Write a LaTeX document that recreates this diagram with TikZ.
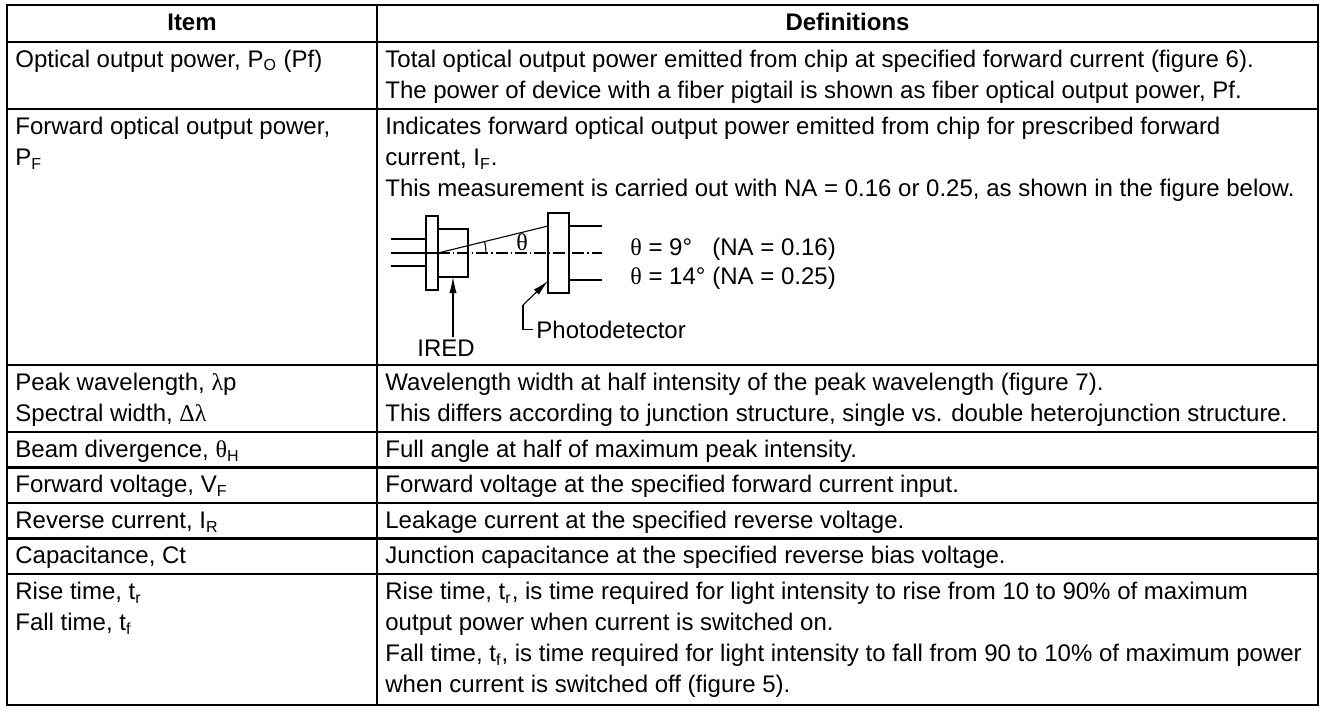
\documentclass[tikz,border=0pt]{standalone}
\usepackage{fontspec}
\setmainfont{Liberation Sans}
\newfontfamily\grk{Liberation Serif}
\usetikzlibrary{arrows.meta}
\newcommand{\txt}{\fontsize{12}{15.5}\selectfont}
\tikzset{
  rule/.style={line width=1.1pt},
  cell/.style={anchor=north west,inner sep=0pt,align=left,font=\txt},
  head/.style={anchor=base,inner sep=0pt,font=\txt\bfseries},
  note/.style={inner sep=0pt,font=\txt},
  part/.style={line width=0.55pt},
  pointer/.style={line width=0.55pt,-{Latex[length=8pt,width=3.6pt]}},
}

\begin{document}
\begin{tikzpicture}[x=0.5pt,y=0.5pt]
  \useasboundingbox (0,0) rectangle (1324,709);
  % grid of the table
  \draw[rule] (7,4) rectangle (1318,704);
  \draw[rule] (377,4) -- (377,704);
  \foreach \yy in {667,600,344,277,241.5,206,170.5,135}
    \draw[rule] (7,\yy) -- (1318,\yy);

  \node[head] (item) at (192,678) {Item};
  \node[head] (defs) at (847.5,678) {Definitions};

  % left column
  \node[cell] (itemA) at (15,663.7) {\strut Optical output power, P\textsubscript{O} (Pf)};
  \node[cell] (itemB) at (15,596.7) {\strut Forward optical output power,\\P\textsubscript{F}};
  \node[cell] (itemC) at (15,340.7) {\strut Peak wavelength, {\grk λ}p\\Spectral width, {\grk Δλ}};
  \node[cell] (itemD) at (15,273.7) {\strut Beam divergence, {\grk θ}\textsubscript{H}};
  \node[cell] (itemE) at (15,238.2) {\strut Forward voltage, V\textsubscript{F}};
  \node[cell] (itemF) at (15,202.7) {\strut Reverse current, I\textsubscript{R}};
  \node[cell] (itemG) at (15,167.2) {\strut Capacitance, Ct};
  \node[cell] (itemH) at (15,131.7) {\strut Rise time, t\textsubscript{r}\\Fall time, t\textsubscript{f}};

  % right column
  \node[cell] (defA) at (385,663.7) {\strut Total optical output power emitted from chip at specified forward current (figure 6).\\
    The power of device with a fiber pigtail is shown as fiber optical output power, Pf.};
  \node[cell] (defB) at (385,596.7) {\strut Indicates forward optical output power emitted from chip for prescribed forward\\
    current, I\textsubscript{F}.\\
    This measurement is carried out with NA = 0.16 or 0.25, as shown in the figure below.};
  \node[cell] (defC) at (385,340.7) {\strut Wavelength width at half intensity of the peak wavelength (figure 7).\\
    This differs according to junction structure, single vs. double heterojunction structure.};
  \node[cell] (defD) at (385,273.7) {\strut Full angle at half of maximum peak intensity.};
  \node[cell] (defE) at (385,238.2) {\strut Forward voltage at the specified forward current input.};
  \node[cell] (defF) at (385,202.7) {\strut Leakage current at the specified reverse voltage.};
  \node[cell] (defG) at (385,167.2) {\strut Junction capacitance at the specified reverse bias voltage.};
  \node[cell] (defH) at (385,131.7) {\strut Rise time, t\textsubscript{r}, is time required for light intensity to rise from 10 to 90\% of maximum\\
    output power when current is switched on.\\
    Fall time, t\textsubscript{f}, is time required for light intensity to fall from 90 to 10\% of maximum power\\
    when current is switched off (figure 5).};

  % measuring set-up
  \draw[part] (391,470) -- (426,470) (391,443) -- (426,443);
  \draw[part] (391,456) -- (438,456);
  \draw[part,dash pattern=on 6pt off 1.5pt on 0.6pt off 1.5pt] (438,456) -- (602,456);
  \draw[part] (426,419) rectangle (438,493);
  \draw[part] (438,432) rectangle (468,480);
  \draw[part] (548,416) rectangle (569,496);
  \draw[part] (569,483) -- (602,483) (569,429) -- (602,429);
  \draw[part] (438,456) -- (548,483);
  \draw[part] (486,456) arc (0:13.8:48);
  \node[note,font=\txt\grk] (theta) at (522,467) {θ};

  \node[note,anchor=base west] (eqA) at (630,454) {\makebox[41pt][l]{{\grk θ} = 9°}(NA = 0.16)};
  \node[note,anchor=base west] (eqB) at (630,425) {\makebox[41pt][l]{{\grk θ} = 14°}(NA = 0.25)};

  \coordinate (chipfoot) at (453,432);
  \coordinate (pdknee) at (523,404);
  \coordinate (pdhit) at (548,428);
  \node[note,anchor=base] (ired) at (446,353) {IRED};
  \node[note,anchor=base west] (pd) at (536,371) {Photodetector};
  \draw[pointer] ([yshift=1pt]ired.north -| chipfoot) -- (chipfoot);
  \draw[part] ([xshift=-1.5pt]pd.west) -| (pdknee);
  \draw[pointer] (pdknee) -- (pdhit);
\end{tikzpicture}
\end{document}
